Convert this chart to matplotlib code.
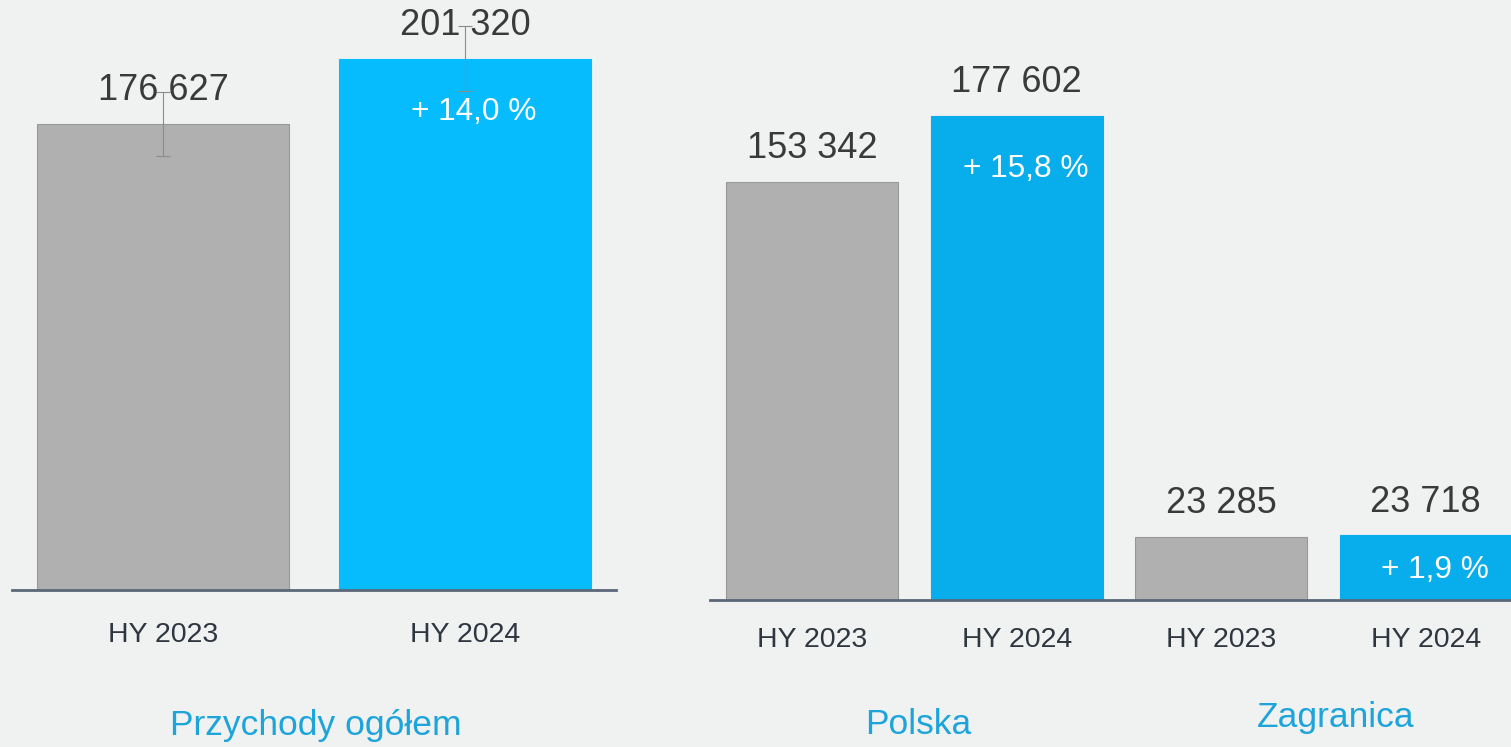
import matplotlib.pyplot as plt

plt.rcParams['font.family'] = ['Liberation Sans', 'DejaVu Sans']

# Data
left_labels = ['HY 2023', 'HY 2024']
left_values = [176627, 201320]
left_err = [12300, 12300]
left_pct = [None, '+ 14,0 %']

right_labels = ['HY 2023', 'HY 2024', 'HY 2023', 'HY 2024']
right_values = [153342, 177602, 23285, 23718]
right_pct = [None, '+ 15,8 %', None, '+ 1,9 %']

group_titles = ['Przychody ogółem', 'Polska', 'Zagranica']

# Colours
bg = '#F0F1F1'
gray = '#B0B0B0'
cyan_left = '#06BCFC'
cyan_right = '#08AEEC'
value_color = '#3A3A3A'
tick_color = '#2E3640'
title_color = '#1DA5DB'
axis_color = '#5A6878'

W, H = 1511, 747
fig = plt.figure(figsize=(W / 100, H / 100), dpi=100, facecolor=bg)


def fmt(v):
    return f'{v:,}'.replace(',', ' ')


def panel(rect, labels, values, colors, width, ymax, xmax, pct, pad, err=None):
    ax = fig.add_axes(rect)
    ax.set_facecolor(bg)
    x = list(range(len(values)))
    ax.bar(x, values, width=width, color=colors,
           edgecolor=['#989898' if c == gray else c for c in colors], linewidth=0.8)
    if err is not None:
        ax.errorbar(x, values, yerr=err, fmt='none', ecolor='#8C8C8C',
                    elinewidth=0.8, capsize=5, capthick=0.8)
    ax.set_xlim(-0.5, xmax)
    ax.set_ylim(0, ymax)
    for s in ['top', 'left', 'right']:
        ax.spines[s].set_visible(False)
    ax.spines['bottom'].set_color(axis_color)
    ax.spines['bottom'].set_linewidth(2.0)
    ax.set_yticks([])
    ax.set_xticks(x)
    ax.set_xticklabels(labels, fontsize=20.5, color=tick_color)
    ax.tick_params(axis='x', length=0, pad=pad)
    # data units per pixel
    per_px = ymax / (rect[3] * H)
    for xi, v, p in zip(x, values, pct):
        ax.annotate(fmt(v), (xi, v), xytext=(0, 24), textcoords='offset points',
                    ha='center', va='center', fontsize=26, color=value_color)
        if p:
            y = max(v - 50 * per_px, v / 2)
            ax.annotate(p, (xi, y), xytext=(6.5, -2), textcoords='offset points',
                        ha='center', va='center', fontsize=22.8, color='white')
    return ax


# Left panel
lb = (H - 590) / H
panel([12 / W, lb, (616 - 12) / W, 1 - lb], left_labels, left_values,
      [gray, cyan_left], 0.836, 590 * 379, 1.5, left_pct, 23, err=left_err)

# Right panel
rb = (H - 600) / H
panel([710 / W, rb, (W - 710) / W, 1 - rb], right_labels, right_values,
      [gray, cyan_right, gray, cyan_right], 0.84, 600 * 367,
      -0.5 + (W - 710) / 204.5, right_pct, 19.5)

# Group titles
for t, (px, py) in zip(group_titles, [(316, 725), (918, 725), (1336, 718)]):
    fig.text(px / W, 1 - py / H, t, ha='center', va='center',
             fontsize=25.5, color=title_color)

fig.savefig('out.png', dpi=100, facecolor=bg)
